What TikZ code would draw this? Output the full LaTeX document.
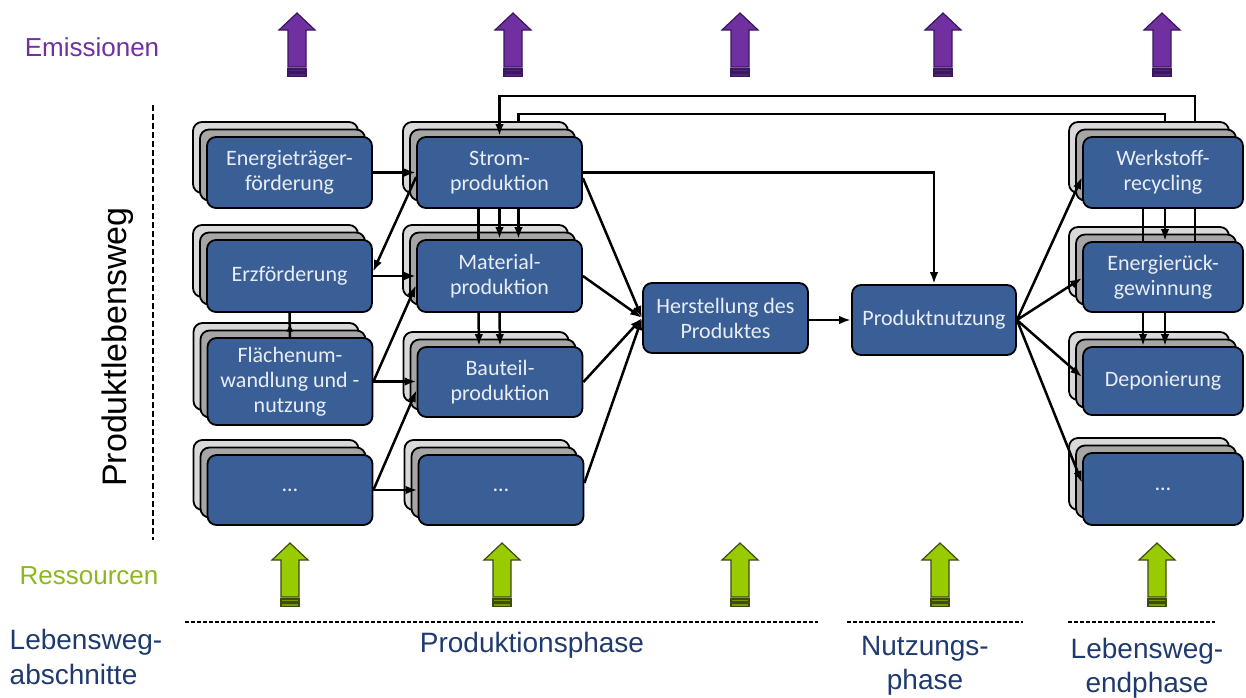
\documentclass[tikz,border=0pt]{standalone}
\usepackage{fontspec}
\setmainfont{Liberation Sans}
\newfontfamily\boxfont{Carlito}
\usetikzlibrary{arrows.meta,shadows,calc,decorations.markings}

\definecolor{boxblue}{HTML}{3A5F96}
\definecolor{boxtext}{HTML}{E8EDF5}
\definecolor{backlight}{HTML}{D9D9D9}
\definecolor{backmid}{HTML}{A6A6A6}
\definecolor{emitfill}{HTML}{7030A0}
\definecolor{emitline}{HTML}{3C1660}
\definecolor{resfill}{HTML}{99CC00}
\definecolor{resline}{HTML}{3E4A10}
\definecolor{restext}{HTML}{8DB71E}
\definecolor{navytext}{HTML}{1F3A6E}

\tikzset{
  proc/.style={draw=black, line width=1.8pt, fill=boxblue, rounded corners=9pt,
    text=boxtext, font=\boxfont\fontsize{22}{25}\selectfont, align=center,
    inner sep=0pt},
  stackbox/.style={proc,
    copy shadow={shadow xshift=-14pt, shadow yshift=15pt, fill=backlight, draw=black, line width=1.8pt},
    copy shadow={shadow xshift=-7pt, shadow yshift=7.5pt, fill=backmid, draw=black, line width=1.8pt}},
  conn/.style={draw=black, line width=2.5pt, -{Latex[length=12pt,width=8.5pt]}},
  plain/.style={draw=black, line width=2.5pt},
  dashline/.style={draw=black, line width=2.2pt, dash pattern=on 6pt off 3pt},
  pics/upblock/.style 2 args={code={
    \path[fill=#1, draw=#2, line width=1.2pt]
      (0,0) -- (18,17) -- (9,17) -- (9,54) -- (-9,54) -- (-9,17) -- (-18,17) -- cycle;
    \path[fill=#1!75!black, draw=#2, line width=1.2pt] (-9,56) rectangle (9,59);
    \path[fill=#1!75!black, draw=#2, line width=1.2pt] (-9,60.5) rectangle (9,63.5);
  }}
}

\begin{document}
\begin{tikzpicture}[x=1pt,y=-1pt]
\useasboundingbox (0,0) rectangle (1246,697);

% side and bottom labels
\node[font=\fontsize{26}{30}\selectfont, text=emitfill] (em) at (92,47) {Emissionen};
\node[font=\fontsize{26}{30}\selectfont, text=restext] (rs) at (89,576) {Ressourcen};
\node[rotate=90, font=\fontsize{34}{40}\selectfont] (plw) at (118,347) {Produktlebensweg};
\draw[dashline] (153,105) -- (153,540);

\draw[dashline, dash pattern=on 4pt off 2pt] (185,622) -- (818,622);
\draw[dashline, dash pattern=on 4pt off 2pt] (847,622) -- (1023,622);
\draw[dashline, dash pattern=on 4pt off 2pt] (1068,622) -- (1215,622);
\node[font=\fontsize{28}{35}\selectfont, text=navytext, align=left] (lwa) at (86,657) {Lebensweg-\\abschnitte};
\node[font=\fontsize{28}{35}\selectfont, text=navytext] (pp) at (532,645) {Produktionsphase};
\node[font=\fontsize{28}{34}\selectfont, text=navytext, align=center] (np) at (925,666) {Nutzungs-\\phase};
\node[font=\fontsize{28}{34}\selectfont, text=navytext, align=center] (ep) at (1147,668) {Lebensweg-\\endphase};

% emission and resource arrows
\foreach \x in {297,513,740,943,1162} \pic at (\x,13) {upblock={emitfill}{emitline}};
\foreach \x in {290,502,740,940,1157} \pic at (\x,543) {upblock={resfill}{resline}};

% first column
\node[stackbox, minimum width=165pt, minimum height=71pt] (E1) at (289.5,172.5) {Energieträger-\\förderung};
\node[stackbox, minimum width=165pt, minimum height=72pt] (E2) at (289.5,276) {Erzförderung};
\node[stackbox, minimum width=165pt, minimum height=87pt] (E3) at (290,381.5) {Flächenum-\\wandlung und -\\nutzung};
\node[stackbox, minimum width=165pt, minimum height=70pt] (E4) at (290,490) {…};

% second column
\node[stackbox, minimum width=165pt, minimum height=71pt] (S) at (499.5,172.5) {Strom-\\produktion};
\node[stackbox, minimum width=165pt, minimum height=72pt] (M) at (499.5,276) {Material-\\produktion};
\node[stackbox, minimum width=165pt, minimum height=70pt] (B) at (500,382) {Bauteil-\\produktion};
\node[stackbox, minimum width=165pt, minimum height=70pt] (D2) at (501,490) {…};

% manufacturing and use
\node[proc, minimum width=165pt, minimum height=70pt] (H) at (725.5,318) {Herstellung des\\Produktes};
\node[proc, minimum width=164pt, minimum height=70pt] (P) at (934,320) {Produktnutzung};

% end of life column
\node[stackbox, minimum width=160pt, minimum height=71pt] (W) at (1163,172.5) {Werkstoff-\\recycling};
\node[stackbox, minimum width=160pt, minimum height=70pt] (R) at (1163,277) {Energierück-\\gewinnung};
\node[stackbox, minimum width=160pt, minimum height=68pt] (Dp) at (1163,381) {Deponierung};
\node[stackbox, minimum width=160pt, minimum height=72pt] (X) at (1163,489) {…};

% first column to second column
\draw[conn] (E1.east) -- (E1.east -| S.west);
\draw[conn] ([yshift=-4.5pt]S.west) -- ([yshift=4pt]E2.east);
\draw[conn] (E2.east) -- (E2.east -| M.west);
\draw[conn] (E3.east) -- ([yshift=-9pt]M.west);
\draw[conn] (E3.east) -- (E3.east -| B.west);
\draw[conn] (E4.east) -- ([yshift=-8pt]B.west);
\draw[conn] (E4.east) -- (E4.east -| D2.west);
\draw[plain, postaction={decorate},
  decoration={markings, mark=at position 0.6 with {\arrow{Latex[length=9pt,width=7pt]}}}]
  (E3.north) -- (E2.south);

% within the second column
\draw[plain] ([xshift=-21pt]S.south) -- ([xshift=-21pt]M.north);
\draw[conn] (S.south) -- (M.north);
\draw[conn] ([xshift=19pt]S.south) -- ([xshift=19pt]M.north);
\draw[conn] ([xshift=-21pt]M.south) -- ([xshift=-21pt]B.north);
\draw[conn] (M.south) -- (B.north);

% into manufacturing
\draw[conn] ([yshift=-5.5pt]S.east) -- (H.west);
\draw[conn] (M.east) -- (H.west);
\draw[conn] (B.east) -- (H.west);
\draw[conn] ([yshift=7pt]D2.east) -- (H.west);
\draw[conn] (S.east) -| (P.north);
\draw[conn] (P.west -| H.east) -- (P.west);

% use to end of life
\draw[conn] (P.east) -- ([yshift=-4.5pt]W.west);
\draw[conn] (P.east) -- ([yshift=-1pt]R.west);
\draw[conn] (P.east) -- ([yshift=4pt]Dp.west);
\draw[conn] (P.east) -- ([yshift=6pt]X.west);

% within the end of life column
\draw[plain] ([xshift=-20pt]W.south) -- ([xshift=-20pt]R.north);
\draw[conn] ([xshift=2pt]W.south) -- ([xshift=2pt]R.north);
\draw[plain] ([xshift=32pt]W.south) -- ([xshift=32pt]R.north);
\draw[conn] ([xshift=-20pt]R.south) -- ([xshift=-20pt]Dp.north);
\draw[conn] ([xshift=2pt]R.south) -- ([xshift=2pt]Dp.north);

% feedback loops back to electricity production
\draw[conn] ([xshift=32pt,yshift=15pt]W.north) -- ++(0,-25) -| (S.north);
\draw[plain] ([xshift=2pt,yshift=15pt]W.north) -- ++(0,-7) -| ([xshift=19pt,yshift=15pt]S.north);
\end{tikzpicture}
\end{document}
